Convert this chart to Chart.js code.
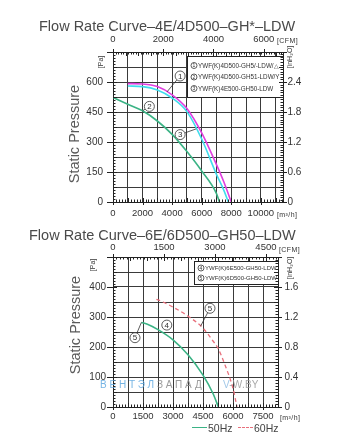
<!DOCTYPE html>
<html lang="en">
<head>
<meta charset="utf-8">
<title>Flow Rate Curves</title>
<script src="https://cdn.jsdelivr.net/npm/chart.js@4.4.1/dist/chart.umd.min.js"></script>
<style>
  html, body { margin: 0; padding: 0; background: #fff; }
  body { position: relative; width: 345px; height: 448px; overflow: hidden;
         font-family: "Liberation Sans", Arial, sans-serif; color: #444; }
  canvas { position: absolute; left: 0; }
  #upper { top: 0; }
  #lower { top: 224px; }
  .txt { position: absolute; white-space: nowrap; line-height: 1; }
  .title { font-size: 14.5px; color: #4a4a4a; transform: translateY(-50%); }
  .axis-name { font-size: 14.5px; color: #5a5a5a; transform: translate(-50%, -50%) rotate(-90deg); }
  .unit { font-size: 7px; color: #333; transform: translateY(-50%); letter-spacing: 0.4px; }
  .unit.rot { transform: translate(-50%, -50%) rotate(-90deg); letter-spacing: 0; }
  .wm { font-size: 10px; transform: translateY(-50%); letter-spacing: 2.8px; opacity: 0.85; }
  .key-line { position: absolute; height: 0; width: 15px; }
  .key-text { font-size: 10.5px; color: #444; transform: translateY(-50%); }
</style>
</head>
<body>
<canvas id="upper" width="345" height="224"></canvas>
<canvas id="lower" width="345" height="224"></canvas>

<div class="txt title" style="left:39px; top:26px;">Flow Rate Curve–4E/4D500–GH*–LDW</div>
<div class="txt title" style="left:29px; top:235px;">Flow Rate Curve–6E/6D500–GH50–LDW</div>

<div class="txt axis-name" style="left:74px; top:134px;">Static Pressure</div>
<div class="txt axis-name" style="left:75px; top:325px;">Static Pressure</div>

<div class="txt unit" style="left:277px; top:39.5px;">[CFM]</div>
<div class="txt unit" style="left:277px; top:213.5px;">[m³/h]</div>
<div class="txt unit rot" style="left:100px; top:62px;">[Pa]</div>
<div class="txt unit rot" style="left:289px; top:57px;">[inH₂O]</div>

<div class="txt unit" style="left:279px; top:248.5px;">[CFM]</div>
<div class="txt unit" style="left:280px; top:417px;">[m³/h]</div>
<div class="txt unit rot" style="left:92px; top:265px;">[Pa]</div>
<div class="txt unit rot" style="left:289px; top:268px;">[inH₂O]</div>

<div class="txt wm" style="left:100px; top:385px;"><span style="color:#5fa8e0">ВЕНТЭЛ</span><span style="color:#8a8a8a">ЗАПАД</span></div>
<div class="txt wm" style="left:223px; top:385px; letter-spacing:0.2px;"><span style="color:#8fbde3">V</span><span style="color:#9a9a9a">-W.BY</span></div>

<div id="freq-key"></div>

<script>
// ---- unit conversions used by the secondary axes ----
const M3H_PER_CFM = 1.699;     // 1 CFM = 1.699 m³/h
const PA_PER_INH2O = 250;      // inH₂O scale as printed on the sheet

// ---- upper chart: 4E/4D500 fans (flow m³/h, static pressure Pa) ----
const flow1 = [1000, 2000, 3000, 4000, 5000, 6000, 7000, 7500, 8000];
const pres1 = [592, 590, 577, 536, 468, 346, 187, 100, 0];
const flow2 = [0, 1000, 2000, 3000, 4000, 5000, 6000, 7000, 7200];
const pres2 = [523, 489, 456, 405, 338, 252, 155, 42, 0];
const flow3 = [1000, 2000, 3000, 4000, 5000, 6000, 7000, 7500, 7800];
const pres3 = [580, 577, 560, 520, 452, 315, 138, 58, 0];
const modelsUpper = ['YWF(K)4D500-GH5/-LDW/△', 'YWF(K)4D500-GH51-LDW/Y', 'YWF(K)4E500-GH50-LDW'];
const flowLabelsUpper = [0, 2000, 4000, 6000, 8000, 10000];
const cfmLabelsUpper = [0, 2000, 4000, 6000];

// ---- lower chart: 6E/6D500 fans at 50 Hz and 60 Hz ----
const flow50 = [1420, 1750, 2250, 3000, 3750, 4500, 5000, 5270];
const pres50 = [282, 275, 258, 224, 174, 106, 45, 0];
const flow60 = [2170, 2500, 3000, 3750, 4500, 5000, 5250, 5600, 6000, 6200];
const pres60 = [359, 350, 333, 303, 263, 220, 196, 140, 62, 0];
const modelsLower = ['YWF(K)6E500-GH50-LDW', 'YWF(K)6D500-GH50-LDW'];
const freqLabels = ['50Hz', '60Hz'];
const flowLabelsLower = [0, 1500, 3000, 4500, 6000, 7500];
const cfmLabelsLower = [0, 1500, 3000, 4500];

const FONT = '"Liberation Sans", Arial, sans-serif';
const INK = '#333';
const GRID = '#3a3a3a';

const pts = (xs, ys) => xs.map((x, i) => ({ x, y: ys[i] }));
const isMultiple = (v, m) => Math.abs(v / m - Math.round(v / m)) < 1e-6;
const near = (list, v) => list.some(t => Math.abs(t - v) < 1e-6);

// Grid ticks at a fixed step from min up to max
function stepTicks(step) {
  return s => {
    const out = [];
    const n = Math.floor((s.max - s.min) / step + 1e-6);
    for (let k = 0; k <= n; k++) out.push({ value: s.min + k * step });
    s.ticks = out;
  };
}

function pressureAt(data, f) {
  for (let i = 0; i < data.length - 1; i++) {
    const a = data[i], b = data[i + 1];
    if (f >= a.x && f <= b.x) return a.y + (b.y - a.y) * (f - a.x) / (b.x - a.x);
  }
  return data[data.length - 1].y;
}

function circled(ctx, cx, cy, r, digit, size) {
  ctx.beginPath();
  ctx.arc(cx, cy, r, 0, Math.PI * 2);
  ctx.fillStyle = '#fff';
  ctx.fill();
  ctx.lineWidth = 0.8;
  ctx.strokeStyle = INK;
  ctx.stroke();
  ctx.fillStyle = INK;
  ctx.font = size + 'px ' + FONT;
  ctx.textAlign = 'center';
  ctx.textBaseline = 'middle';
  ctx.fillText(digit, cx, cy + 0.5);
}

// Numbered tags with leader lines pointing at a curve
const curveTags = {
  id: 'curveTags',
  afterDatasetsDraw(chart, args, opts) {
    const { ctx } = chart;
    const xs = chart.scales.x, ys = chart.scales.y;
    const r = 5;
    ctx.save();
    for (const t of opts.tags) {
      const cx = xs.getPixelForValue(t.at[0]);
      const cy = ys.getPixelForValue(t.at[1]);
      if (t.on) {
        const data = chart.data.datasets[t.on.dataset].data;
        const tx = xs.getPixelForValue(t.on.flow);
        const ty = ys.getPixelForValue(pressureAt(data, t.on.flow));
        const ang = Math.atan2(ty - cy, tx - cx);
        ctx.beginPath();
        ctx.moveTo(cx + r * Math.cos(ang), cy + r * Math.sin(ang));
        ctx.lineTo(tx, ty);
        ctx.lineWidth = 0.8;
        ctx.strokeStyle = INK;
        ctx.stroke();
      }
      circled(ctx, cx, cy, r, t.n, 8);
    }
    ctx.restore();
  }
};

// Boxed list of fan models inside the plot
const modelKey = {
  id: 'modelKey',
  beforeDatasetsDraw(chart, args, opts) {
    const { ctx, chartArea: a } = chart;
    const xs = chart.scales.x, ys = chart.scales.y;
    const left = Math.round(xs.getPixelForValue(opts.fromFlow)) + 0.5;
    const top = Math.round(ys.getPixelForValue(opts.topPres)) + 0.5;
    const bottom = Math.round(ys.getPixelForValue(opts.bottomPres)) + 0.5;
    const right = Math.round(a.right) + 0.5;
    ctx.save();
    ctx.fillStyle = '#fff';
    ctx.fillRect(left, top, right - left, bottom - top);
    ctx.lineWidth = 1;
    ctx.strokeStyle = '#222';
    ctx.strokeRect(left, top, right - left, bottom - top);
    const mid = (top + bottom) / 2;
    const n = opts.names.length;
    opts.names.forEach((name, i) => {
      const y = mid + (i - (n - 1) / 2) * opts.gap;
      circled(ctx, left + 6.5, y, 3, String(opts.first + i), 5);
      ctx.fillStyle = INK;
      ctx.font = opts.size + 'px ' + FONT;
      ctx.textAlign = 'left';
      ctx.textBaseline = 'middle';
      ctx.fillText(name, left + 10.5, y + 0.3);
    });
    ctx.restore();
  }
};

// Ruler-style minor ticks along each side of the plot frame
const rulerTicks = {
  id: 'rulerTicks',
  afterDraw(chart, args, opts) {
    const { ctx, chartArea: a } = chart;
    ctx.save();
    ctx.strokeStyle = '#222';
    ctx.lineWidth = 1;
    for (const rule of opts.rules) {
      const s = chart.scales[rule.scale];
      const count = Math.floor((s.max - s.min) / rule.step + 1e-6);
      for (let k = 0; k <= count; k++) {
        const v = s.min + k * rule.step;
        const p = Math.round(s.getPixelForValue(v)) + 0.5;
        const inLen = isMultiple(v, rule.major) ? 4 : 2.5;
        const outLen = isMultiple(v, rule.label) ? rule.out : 0;
        ctx.beginPath();
        if (s.position === 'bottom') { ctx.moveTo(p, a.bottom + outLen); ctx.lineTo(p, a.bottom - inLen); }
        else if (s.position === 'top') { ctx.moveTo(p, a.top - outLen); ctx.lineTo(p, a.top + inLen); }
        else if (s.position === 'left') { ctx.moveTo(a.left - outLen, p); ctx.lineTo(a.left + inLen, p); }
        else { ctx.moveTo(a.right + outLen, p); ctx.lineTo(a.right - inLen, p); }
        ctx.stroke();
      }
    }
    ctx.restore();
  }
};

function buildScales(c) {
  const tickFont = size => ({ family: FONT, size });
  const border = { display: true, color: '#222', width: 1 };
  const common = { autoSkip: false, maxRotation: 0, minRotation: 0, color: INK };
  return {
    x: {
      type: 'linear', position: 'bottom', min: 0, max: c.flowMax,
      afterBuildTicks: stepTicks(c.flowGrid),
      ticks: {
        ...common, padding: c.padBottom, font: tickFont(c.xFont),
        callback: v => near(c.flowLabels, v) ? String(v) : ''
      },
      grid: { color: GRID, lineWidth: 1, drawTicks: false },
      border,
      afterFit: s => { s.height = c.bottomH; }
    },
    x2: {
      type: 'linear', position: 'top', min: 0, max: c.flowMax / M3H_PER_CFM,
      afterBuildTicks: s => { s.ticks = c.cfmLabels.map(value => ({ value })); },
      ticks: {
        ...common, padding: c.padTop, font: tickFont(c.xFont),
        callback: v => String(v)
      },
      grid: { drawOnChartArea: false, drawTicks: false },
      border,
      afterFit: s => { s.height = c.topH; }
    },
    y: {
      type: 'linear', position: 'left', min: 0, max: c.presMax,
      afterBuildTicks: stepTicks(c.presGrid),
      ticks: {
        ...common, padding: c.padLeft, font: tickFont(10),
        callback: v => (isMultiple(v, c.presLabel) && v < c.presMax) ? String(v) : ''
      },
      grid: { color: GRID, lineWidth: 1, drawTicks: false },
      border,
      afterFit: s => { s.width = c.leftW; }
    },
    yR: {
      type: 'linear', position: 'right', min: 0, max: c.presMax / PA_PER_INH2O,
      afterBuildTicks: stepTicks(c.presLabel / PA_PER_INH2O),
      ticks: {
        ...common, padding: c.padRight, font: tickFont(10),
        callback: v => (v >= c.presMax / PA_PER_INH2O - 1e-9) ? '' : (Math.abs(v) < 1e-9 ? '0' : v.toFixed(1))
      },
      grid: { drawOnChartArea: false, drawTicks: false },
      border,
      afterFit: s => { s.width = c.rightW; }
    }
  };
}

const lineStyle = { fill: false, pointRadius: 0, borderWidth: 1.6, cubicInterpolationMode: 'monotone' };

const baseOptions = {
  responsive: false,
  animation: false,
  devicePixelRatio: 1,
  layout: { padding: 0 },
  events: []
};

const upper = new Chart(document.getElementById('upper'), {
  type: 'line',
  data: {
    datasets: [
      { ...lineStyle, label: modelsUpper[0], data: pts(flow1, pres1), borderColor: '#e03fe0' },
      { ...lineStyle, label: modelsUpper[1], data: pts(flow2, pres2), borderColor: '#3bb385' },
      { ...lineStyle, label: modelsUpper[2], data: pts(flow3, pres3), borderColor: '#3fdcec' }
    ]
  },
  options: {
    ...baseOptions,
    scales: buildScales({
      flowMax: 11500, flowGrid: 1000, flowLabels: flowLabelsUpper, cfmLabels: cfmLabelsUpper,
      presMax: 750, presGrid: 75, presLabel: 150,
      leftW: 113, rightW: 62, topH: 52, bottomH: 22,
      padBottom: 5.5, padTop: 7, padLeft: 10, padRight: 4.5, xFont: 9.5
    }),
    plugins: {
      legend: { display: false },
      tooltip: { enabled: false },
      modelKey: { names: modelsUpper, first: 1, fromFlow: 5000, topPres: 730, bottomPres: 525, gap: 11.5, size: 6.3 },
      curveTags: {
        tags: [
          { n: '1', at: [4540, 630], on: { dataset: 0, flow: 3650 } },
          { n: '2', at: [2460, 478], on: { dataset: 1, flow: 2000 } },
          { n: '3', at: [4540, 337], on: { dataset: 2, flow: 5630 } }
        ]
      },
      rulerTicks: {
        rules: [
          { scale: 'x', step: 200, major: 1000, label: 2000, out: 3 },
          { scale: 'x2', step: 100, major: 500, label: 2000, out: 3 },
          { scale: 'y', step: 15, major: 75, label: 150, out: 6 },
          { scale: 'yR', step: 0.05, major: 0.3, label: 0.6, out: 4 }
        ]
      }
    }
  },
  plugins: [modelKey, curveTags, rulerTicks]
});

const lower = new Chart(document.getElementById('lower'), {
  type: 'line',
  data: {
    datasets: [
      { ...lineStyle, label: freqLabels[0], data: pts(flow50, pres50), borderColor: '#3bb385' },
      { ...lineStyle, label: freqLabels[1], data: pts(flow60, pres60), borderColor: '#e8707c', borderWidth: 1.3, borderDash: [4, 3] }
    ]
  },
  options: {
    ...baseOptions,
    scales: buildScales({
      flowMax: 8250, flowGrid: 750, flowLabels: flowLabelsLower, cfmLabels: cfmLabelsLower,
      presMax: 500, presGrid: 50, presLabel: 100,
      leftW: 113, rightW: 67, topH: 33, bottomH: 41,
      padBottom: 4, padTop: 3.5, padLeft: 7, padRight: 6.5, xFont: 9.5
    }),
    plugins: {
      legend: { display: false },
      tooltip: { enabled: false },
      modelKey: { names: modelsLower, first: 4, fromFlow: 4050, topPres: 487, bottomPres: 410, gap: 10, size: 6 },
      curveTags: {
        tags: [
          { n: '4', at: [2690, 273] },
          { n: '5', at: [1100, 231], on: { dataset: 0, flow: 1420 } },
          { n: '5', at: [4850, 329], on: { dataset: 1, flow: 4380 } }
        ]
      },
      rulerTicks: {
        rules: [
          { scale: 'x', step: 150, major: 750, label: 1500, out: 3 },
          { scale: 'x2', step: 100, major: 500, label: 1500, out: 3 },
          { scale: 'y', step: 10, major: 50, label: 100, out: 6 },
          { scale: 'yR', step: 0.04, major: 0.2, label: 0.4, out: 4 }
        ]
      }
    }
  },
  plugins: [modelKey, curveTags, rulerTicks]
});

// Frequency key under the lower chart, built from its datasets
(function () {
  const holder = document.getElementById('freq-key');
  const spots = [{ line: 192, text: 208 }, { line: 238, text: 254 }];
  lower.data.datasets.forEach((ds, i) => {
    const line = document.createElement('div');
    line.className = 'key-line';
    line.style.left = spots[i].line + 'px';
    line.style.top = '427px';
    line.style.borderTop = '1.5px ' + (ds.borderDash ? 'dashed' : 'solid') + ' ' + ds.borderColor;
    holder.appendChild(line);
    const label = document.createElement('div');
    label.className = 'txt key-text';
    label.style.left = spots[i].text + 'px';
    label.style.top = '427.5px';
    label.textContent = ds.label;
    holder.appendChild(label);
  });
})();
</script>
</body>
</html>
